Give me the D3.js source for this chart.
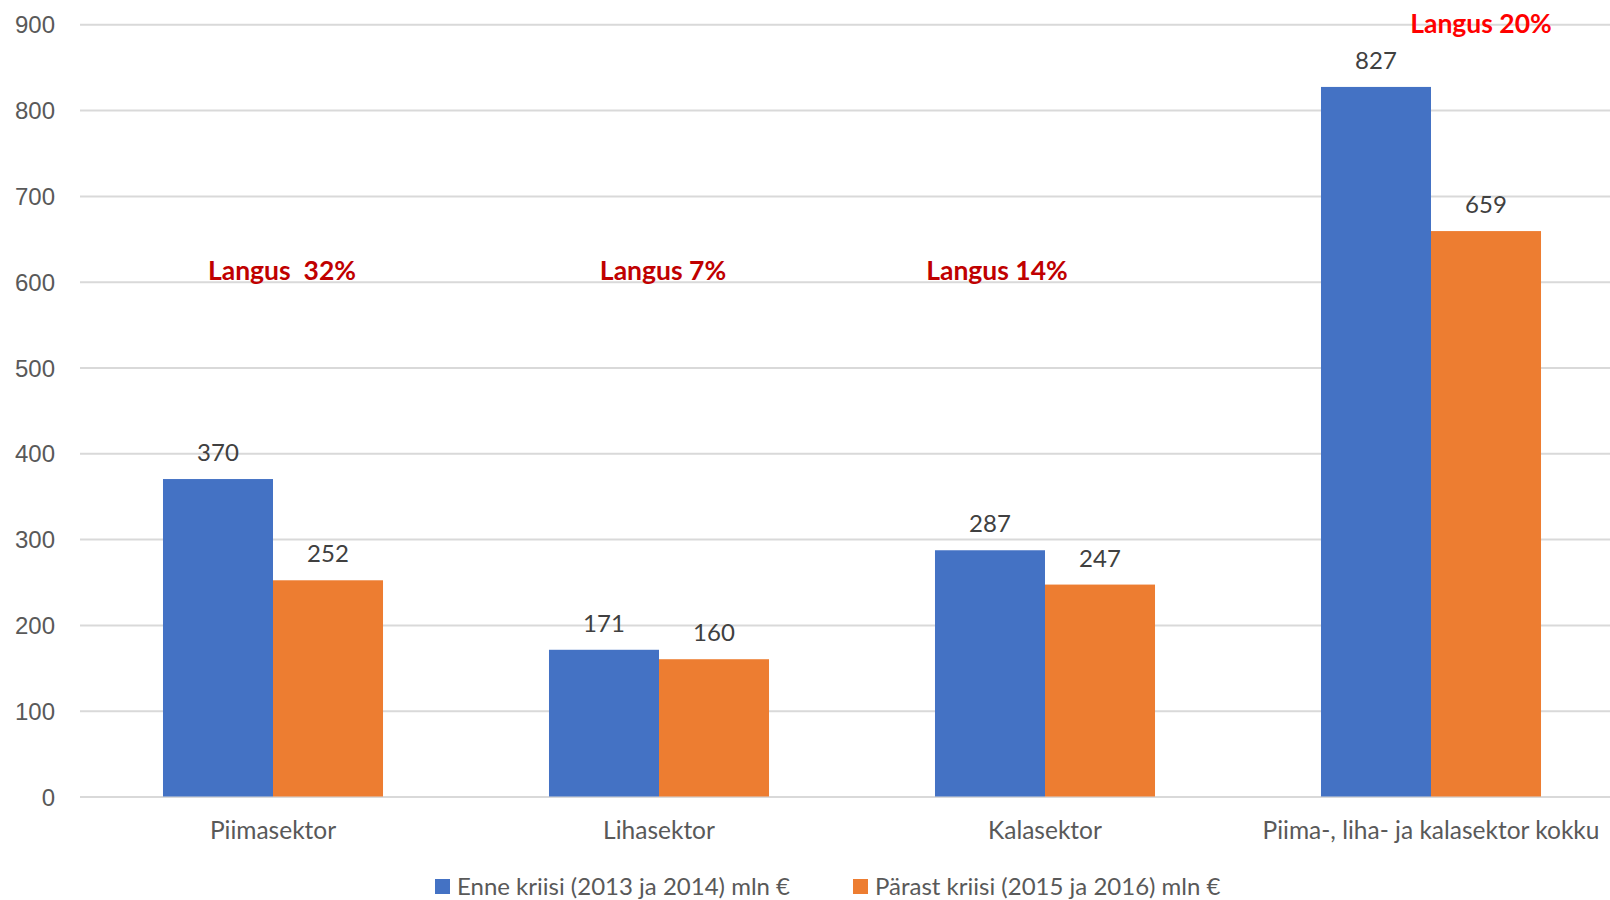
<!DOCTYPE html>
<html>
<head>
<meta charset="utf-8">
<script src="https://cdn.jsdelivr.net/npm/d3@7"></script>
<style>
  html, body { margin: 0; padding: 0; background: #fff; }
  svg { display: block; font-family: Lato, "Open Sans", sans-serif; }
  .grid line { stroke: #d9d9d9; stroke-width: 2; }
  .grid path { display: none; }
  .ylab text { fill: #595959; font-size: 24px; }
  .ylab path, .ylab line { display: none; }
</style>
</head>
<body>
<div id="chart"></div>
<script>
const categories = ["Piimasektor", "Lihasektor", "Kalasektor", "Piima-, liha- ja kalasektor kokku"]
const seriesNames = ["Enne kriisi (2013 ja 2014) mln €", "Pärast kriisi (2015 ja 2016) mln €"]
const before = [370, 171, 287, 827]
const after = [252, 160, 247, 659]
const yTicks = [0, 100, 200, 300, 400, 500, 600, 700, 800, 900]
const notes = ["Langus  32%", "Langus 7%", "Langus 14%", "Langus 20%"]

// where the red notes sit: value on the y axis and a nudge from the group centre
const noteAt = [
  { v: 602, dx: 9, color: "#c00000" },
  { v: 602, dx: 4, color: "#c00000" },
  { v: 602, dx: -48, color: "#c00000" },
  { v: 890, dx: 50, color: "#ff0000" },
]
const colors = ["#4472c4", "#ed7d31"]

const width = 1610, height = 900

const svg = d3.select("#chart").append("svg")
  .attr("width", width)
  .attr("height", height)

const y = d3.scaleLinear().domain([0, 900]).range([796.5, 24.3])

const x0 = d3.scaleBand()
  .domain(categories)
  .range([80, 1624])
  .paddingInner(0.43)
  .paddingOuter(0.215)

const x1 = d3.scaleBand()
  .domain([0, 1])
  .range([0, x0.bandwidth()])

// grid
svg.append("g")
  .attr("class", "grid")
  .attr("transform", "translate(80,0)")
  .call(d3.axisLeft(y).tickValues(yTicks).tickSize(-(width - 80)).tickFormat(""))

// y labels
svg.append("g")
  .attr("class", "ylab")
  .attr("transform", "translate(63,0)")
  .call(d3.axisLeft(y).tickValues(yTicks).tickSize(0).tickPadding(8))
  .selectAll("text")
  .attr("dy", "0.36em")

const rows = categories.map((c, i) => ({ cat: c, i, vals: [before[i], after[i]] }))

const groups = svg.append("g").selectAll("g")
  .data(rows)
  .join("g")
  .attr("transform", (d) => `translate(${x0(d.cat)},0)`)

groups.selectAll("rect")
  .data((d) => d.vals.map((v, s) => ({ v, s })))
  .join("rect")
  .attr("x", (d) => x1(d.s))
  .attr("width", x1.bandwidth())
  .attr("y", (d) => y(d.v))
  .attr("height", (d) => y(0) - y(d.v))
  .attr("fill", (d) => colors[d.s])

groups.selectAll("text.val")
  .data((d) => d.vals.map((v, s) => ({ v, s })))
  .join("text")
  .attr("class", "val")
  .attr("x", (d) => x1(d.s) + x1.bandwidth() / 2)
  .attr("y", (d) => y(d.v) - 18)
  .attr("text-anchor", "middle")
  .attr("fill", "#404040")
  .style("font-size", "24px")
  .text((d) => d.v)

// category labels
svg.append("g").selectAll("text")
  .data(categories)
  .join("text")
  .attr("x", (d) => x0(d) + x0.bandwidth() / 2)
  .attr("y", 839)
  .attr("text-anchor", "middle")
  .attr("fill", "#595959")
  .style("font-size", "24.5px")
  .text((d) => d)

// red notes
svg.append("g").selectAll("text")
  .data(notes)
  .join("text")
  .attr("x", (d, i) => x0(categories[i]) + x0.bandwidth() / 2 + noteAt[i].dx)
  .attr("y", (d, i) => y(noteAt[i].v))
  .attr("text-anchor", "middle")
  .attr("fill", (d, i) => noteAt[i].color)
  .style("font-size", "26.5px")
  .style("font-weight", "bold")
  .style("white-space", "pre")
  .text((d) => d)

// legend
const legendX = [435, 853]
const legend = svg.append("g").selectAll("g")
  .data(seriesNames)
  .join("g")
  .attr("transform", (d, i) => `translate(${legendX[i]},879)`)

legend.append("rect")
  .attr("width", 15)
  .attr("height", 15)
  .attr("fill", (d, i) => colors[i])

legend.append("text")
  .attr("x", 22)
  .attr("y", 16)
  .attr("fill", "#595959")
  .style("font-size", "24px")
  .text((d) => d)
</script>
</body>
</html>
